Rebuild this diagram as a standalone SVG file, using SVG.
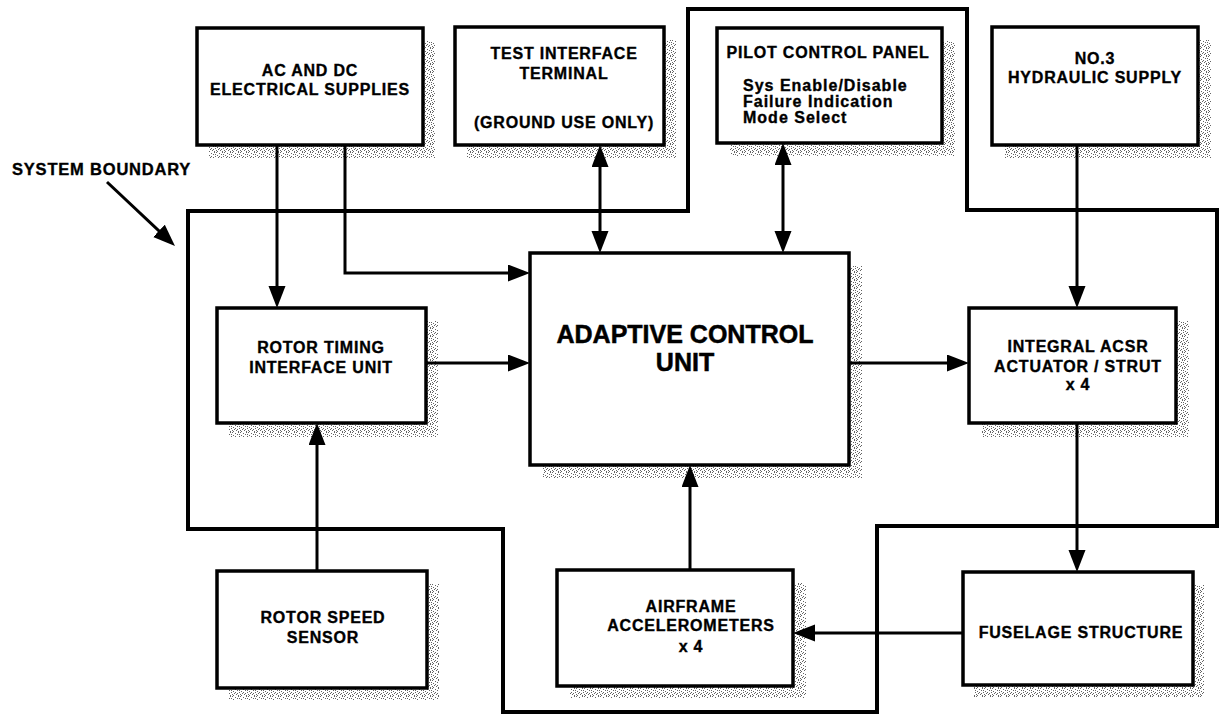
<svg xmlns="http://www.w3.org/2000/svg" width="1222" height="716" viewBox="0 0 1222 716">
  <defs>
    <!-- scattered-dot grey used for the drop shadows -->
    <pattern id="stipple" width="8" height="8" patternUnits="userSpaceOnUse">
      <rect width="8" height="8" fill="#ffffff"/>
      <g fill="#646464">
        <rect x="0" y="0" width="1" height="1"/>
        <rect x="3" y="1" width="1" height="1"/>
        <rect x="6" y="0" width="1" height="1"/>
        <rect x="1" y="3" width="1" height="1"/>
        <rect x="5" y="2" width="1" height="1"/>
        <rect x="7" y="4" width="1" height="1"/>
        <rect x="2" y="5" width="1" height="1"/>
        <rect x="4" y="6" width="1" height="1"/>
        <rect x="6" y="7" width="1" height="1"/>
        <rect x="0" y="6" width="1" height="1"/>
        <rect x="3" y="4" width="1" height="1"/>
        <rect x="7" y="2" width="1" height="1"/>
        <rect x="1" y="7" width="1" height="1"/>
        <rect x="5" y="5" width="1" height="1"/>
      </g>
    </pattern>
    <marker id="arrow" markerUnits="userSpaceOnUse" markerWidth="24" markerHeight="18" refX="12" refY="8.5" orient="auto-start-reverse">
      <path d="M0,0 L22,8.5 L0,17 Z" fill="#000"/>
    </marker>
  </defs>
  <style>
    .box { fill: #ffffff; stroke: #000; stroke-width: 3.5; }
    .shadow { fill: url(#stipple); }
    .boundary { fill: none; stroke: #000; stroke-width: 4; stroke-linejoin: miter; }
    .wire { fill: none; stroke: #000; stroke-width: 3; }
    text { font-family: "Liberation Sans", Arial, Helvetica, sans-serif; font-weight: bold; fill: #000; stroke: #000; stroke-width: 0.35; }
    .t { font-size: 16px; letter-spacing: 0.8px; text-anchor: middle; }
    .l { font-size: 16px; letter-spacing: 1px; }
    .big { font-size: 25px; text-anchor: middle; stroke-width: 0.5; }
  </style>

  <rect width="1222" height="716" fill="#ffffff"/>

  <!-- system boundary outline -->
  <g id="system-boundary">
    <path class="boundary" d="M188,211 H688 V9 H967 V210 H1217 V526 H877 V712 H503 V529 H188 Z"/>
    <text x="12" y="175" style="font-size:16.5px;letter-spacing:0.8px">SYSTEM BOUNDARY</text>
  </g>

  <g id="ac-dc-supplies">
    <rect class="shadow" x="209" y="41" width="226" height="117"/>
    <rect class="box" x="197" y="28" width="226" height="117"/>
    <text class="t" x="310" y="76">AC AND DC</text>
    <text class="t" x="310" y="95">ELECTRICAL SUPPLIES</text>
  </g>

  <g id="test-interface-terminal">
    <rect class="shadow" x="467" y="40" width="209" height="118"/>
    <rect class="box" x="455" y="27" width="209" height="118"/>
    <text class="t" x="564" y="59">TEST INTERFACE</text>
    <text class="t" x="564" y="79">TERMINAL</text>
    <text class="t" x="564" y="128">(GROUND USE ONLY)</text>
  </g>

  <g id="pilot-control-panel">
    <rect class="shadow" x="730" y="41" width="225" height="115"/>
    <rect class="box" x="717" y="28" width="225" height="115"/>
    <text class="t" x="828" y="58">PILOT CONTROL PANEL</text>
    <text class="l" x="743" y="91">Sys Enable/Disable</text>
    <text class="l" x="743" y="107">Failure Indication</text>
    <text class="l" x="743" y="123">Mode Select</text>
  </g>

  <g id="hydraulic-supply">
    <rect class="shadow" x="1005" y="40" width="206" height="118"/>
    <rect class="box" x="992" y="27" width="206" height="118"/>
    <text class="t" x="1095" y="64">NO.3</text>
    <text class="t" x="1095" y="83">HYDRAULIC SUPPLY</text>
  </g>

  <g id="rotor-timing-interface-unit">
    <rect class="shadow" x="229" y="321" width="209" height="116"/>
    <rect class="box" x="217" y="308" width="209" height="115"/>
    <text class="t" x="321" y="353">ROTOR TIMING</text>
    <text class="t" x="321" y="373">INTERFACE UNIT</text>
  </g>

  <g id="adaptive-control-unit">
    <rect class="shadow" x="543" y="266" width="319" height="212"/>
    <rect class="box" x="530" y="253" width="319" height="212"/>
    <text class="big" x="685" y="343">ADAPTIVE CONTROL</text>
    <text class="big" x="685" y="371">UNIT</text>
  </g>

  <g id="integral-acsr-actuator">
    <rect class="shadow" x="982" y="321" width="207" height="116"/>
    <rect class="box" x="969" y="308" width="207" height="115"/>
    <text class="t" x="1078" y="352">INTEGRAL ACSR</text>
    <text class="t" x="1078" y="372">ACTUATOR / STRUT</text>
    <text class="t" x="1078" y="390">x 4</text>
  </g>

  <g id="rotor-speed-sensor">
    <rect class="shadow" x="229" y="584" width="210" height="116"/>
    <rect class="box" x="217" y="571" width="210" height="117"/>
    <text class="t" x="323" y="623">ROTOR SPEED</text>
    <text class="t" x="323" y="643">SENSOR</text>
  </g>

  <g id="airframe-accelerometers">
    <rect class="shadow" x="570" y="583" width="236" height="115"/>
    <rect class="box" x="557" y="570" width="236" height="116"/>
    <text class="t" x="691" y="612">AIRFRAME</text>
    <text class="t" x="691" y="631">ACCELEROMETERS</text>
    <text class="t" x="691" y="652">x 4</text>
  </g>

  <g id="fuselage-structure">
    <rect class="shadow" x="974" y="585" width="230" height="112"/>
    <rect class="box" x="963" y="572" width="230" height="113"/>
    <text class="t" x="1081" y="638">FUSELAGE STRUCTURE</text>
  </g>

  <!-- signal and supply paths -->
  <g id="connectors">
    <path class="wire" d="M277,145 V298" marker-end="url(#arrow)"/>
    <path class="wire" d="M345,145 V273 H520" marker-end="url(#arrow)"/>
    <path class="wire" d="M600,155 V243" marker-start="url(#arrow)" marker-end="url(#arrow)"/>
    <path class="wire" d="M783,153 V243" marker-start="url(#arrow)" marker-end="url(#arrow)"/>
    <path class="wire" d="M1077,145 V298" marker-end="url(#arrow)"/>
    <path class="wire" d="M426,363 H520" marker-end="url(#arrow)"/>
    <path class="wire" d="M849,363 H959" marker-end="url(#arrow)"/>
    <path class="wire" d="M1077,423 V562" marker-end="url(#arrow)"/>
    <path class="wire" d="M963,633 H803" marker-end="url(#arrow)"/>
    <path class="wire" d="M690,570 V475" marker-end="url(#arrow)"/>
    <path class="wire" d="M317,571 V433" marker-end="url(#arrow)"/>
    <path class="wire" d="M107,182 L167.7,239.1" marker-end="url(#arrow)"/>
  </g>
</svg>
